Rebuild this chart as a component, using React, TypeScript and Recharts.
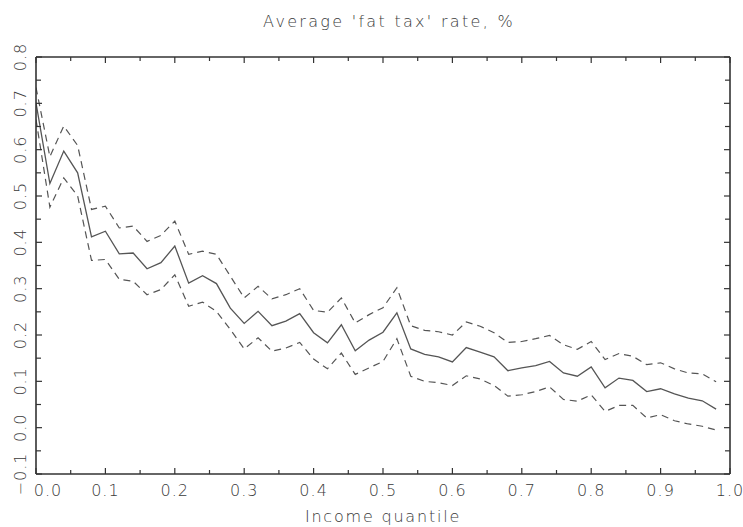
import React from 'react';
import { LineChart, Line, XAxis, YAxis } from 'recharts';

const quantiles = [
  0, 0.02, 0.04, 0.06, 0.08, 0.1, 0.12, 0.14, 0.16, 0.18,
  0.2, 0.22, 0.24, 0.26, 0.28, 0.3, 0.32, 0.34, 0.36, 0.38,
  0.4, 0.42, 0.44, 0.46, 0.48, 0.5, 0.52, 0.54, 0.56, 0.58,
  0.6, 0.62, 0.64, 0.66, 0.68, 0.7, 0.72, 0.74, 0.76, 0.78,
  0.8, 0.82, 0.84, 0.86, 0.88, 0.9, 0.92, 0.94, 0.96, 0.98,
];

const meanRate = [
  0.701, 0.527, 0.597, 0.55, 0.412, 0.424, 0.375, 0.377, 0.343, 0.356,
  0.392, 0.312, 0.328, 0.311, 0.258, 0.225, 0.251, 0.22, 0.23, 0.246,
  0.205, 0.183, 0.222, 0.166, 0.189, 0.206, 0.248, 0.17, 0.158, 0.153,
  0.142, 0.173, 0.163, 0.153, 0.123, 0.129, 0.134, 0.143, 0.118, 0.111,
  0.131, 0.086, 0.107, 0.102, 0.078, 0.084, 0.073, 0.064, 0.058, 0.04,
];

const upperBand = [
  0.734, 0.585, 0.651, 0.609, 0.471, 0.478, 0.431, 0.435, 0.402, 0.415,
  0.446, 0.374, 0.381, 0.374, 0.327, 0.28, 0.305, 0.278, 0.287, 0.3,
  0.253, 0.249, 0.28, 0.226, 0.244, 0.259, 0.302, 0.22, 0.21, 0.207,
  0.2, 0.228, 0.219, 0.205, 0.184, 0.186, 0.192, 0.199, 0.179, 0.169,
  0.186, 0.147, 0.16, 0.154, 0.136, 0.14, 0.127, 0.118, 0.116, 0.099,
];

const lowerBand = [
  0.665, 0.476, 0.539, 0.5, 0.361, 0.363, 0.32, 0.316, 0.287, 0.298,
  0.33, 0.262, 0.271, 0.251, 0.212, 0.17, 0.194, 0.165, 0.172, 0.184,
  0.148, 0.127, 0.161, 0.115, 0.129, 0.143, 0.192, 0.111, 0.1, 0.097,
  0.091, 0.112, 0.105, 0.091, 0.068, 0.071, 0.078, 0.088, 0.061, 0.057,
  0.071, 0.035, 0.048, 0.048, 0.021, 0.028, 0.015, 0.008, 0.003, -0.005,
];

const xTicks = [
  0, 0.05, 0.1, 0.15, 0.2, 0.25, 0.3, 0.35, 0.4, 0.45, 0.5,
  0.55, 0.6, 0.65, 0.7, 0.75, 0.8, 0.85, 0.9, 0.95, 1.0,
];
const yTicks = [
  -0.1, -0.05, 0, 0.05, 0.1, 0.15, 0.2, 0.25, 0.3, 0.35,
  0.4, 0.45, 0.5, 0.55, 0.6, 0.65, 0.7, 0.75, 0.8,
];

const titleText = "Average 'fat tax' rate, %";
const xLabelText = 'Income quantile';

const data = quantiles.map((q, i) => ({
  q,
  mean: meanRate[i],
  upper: upperBand[i],
  lower: lowerBand[i],
}));

const FONT = '"DejaVu Sans", sans-serif';
const TEXT = '#3a3a3a';
const AXIS = '#333';
const TICK = '#333';
const LINE = '#555';

const isMajor = (v: number) => Math.round(v * 100) % 10 === 0;
const fmt = (v: number) => v.toFixed(1).replace('-', '\u2212');

const BottomTick = (props: any) => {
  const { x, y, payload } = props;
  const v = payload.value as number;
  const major = isMajor(v);
  const len = major ? 6 : 4;
  return (
    <g>
      <line x1={x} y1={y} x2={x} y2={y - len} stroke={TICK} strokeWidth={1.2} />
      {major && (
        <text
          x={x + (v === 0 ? 12 : 0)}
          y={y + 22}
          textAnchor="middle"
          fontFamily={FONT}
          fontSize={16}
          fontWeight={300}
          letterSpacing={1}
          fill={TEXT}
        >
          {fmt(v)}
        </text>
      )}
    </g>
  );
};

const TopTick = (props: any) => {
  const { x, y, payload } = props;
  const len = isMajor(payload.value) ? 6 : 4;
  return <line x1={x} y1={y} x2={x} y2={y + len} stroke={TICK} strokeWidth={1.2} />;
};

const LeftTick = (props: any) => {
  const { x, y, payload } = props;
  const v = payload.value as number;
  const major = isMajor(v);
  const len = major ? 6 : 5;
  const tx = 26;
  return (
    <g>
      <line x1={x} y1={y} x2={x + len} y2={y} stroke={TICK} strokeWidth={1.2} />
      {major && (
        <text
          x={tx}
          y={y}
          transform={`rotate(-90, ${tx}, ${y})`}
          textAnchor="middle"
          fontFamily={FONT}
          fontSize={16}
          fontWeight={300}
          letterSpacing={1}
          fill={TEXT}
        >
          {fmt(v)}
        </text>
      )}
    </g>
  );
};

const RightTick = (props: any) => {
  const { x, y, payload } = props;
  const len = isMajor(payload.value) ? 6 : 5;
  return <line x1={x} y1={y} x2={x - len} y2={y} stroke={TICK} strokeWidth={1.2} />;
};

export default function App() {
  return (
    <div style={{ position: 'absolute', left: 0, top: 0, width: 743, height: 527, background: '#fff' }}>
      <LineChart
        width={743}
        height={527}
        data={data}
        margin={{ top: 47, right: 3, bottom: 23, left: 6 }}
      >
        <XAxis
          xAxisId="b"
          dataKey="q"
          type="number"
          domain={[0, 1]}
          ticks={xTicks}
          interval={0}
          height={30}
          tickSize={0}
          tickMargin={0}
          tickLine={false}
          axisLine={{ stroke: AXIS, strokeWidth: 1.6 }}
          tick={<BottomTick />}
          allowDataOverflow
        />
        <XAxis
          xAxisId="t"
          dataKey="q"
          orientation="top"
          type="number"
          domain={[0, 1]}
          ticks={xTicks}
          interval={0}
          height={10}
          tickSize={0}
          tickMargin={0}
          tickLine={false}
          axisLine={{ stroke: AXIS, strokeWidth: 1.6 }}
          tick={<TopTick />}
          allowDataOverflow
        />
        <YAxis
          yAxisId="l"
          type="number"
          domain={[-0.1, 0.8]}
          ticks={yTicks}
          interval={0}
          width={30}
          tickSize={0}
          tickMargin={0}
          tickLine={false}
          axisLine={{ stroke: AXIS, strokeWidth: 1.6 }}
          tick={<LeftTick />}
          allowDataOverflow
        />
        <YAxis
          yAxisId="r"
          orientation="right"
          type="number"
          domain={[-0.1, 0.8]}
          ticks={yTicks}
          interval={0}
          width={10}
          tickSize={0}
          tickMargin={0}
          tickLine={false}
          axisLine={{ stroke: AXIS, strokeWidth: 1.6 }}
          tick={<RightTick />}
          allowDataOverflow
        />
        <Line
          xAxisId="t"
          yAxisId="r"
          type="linear"
          dataKey="mean"
          stroke="none"
          dot={false}
          legendType="none"
          isAnimationActive={false}
        />
        <Line
          xAxisId="b"
          yAxisId="l"
          type="linear"
          dataKey="upper"
          stroke={LINE}
          strokeWidth={1.2}
          strokeDasharray="7 5"
          dot={false}
          isAnimationActive={false}
        />
        <Line
          xAxisId="b"
          yAxisId="l"
          type="linear"
          dataKey="lower"
          stroke={LINE}
          strokeWidth={1.2}
          strokeDasharray="7 5"
          dot={false}
          isAnimationActive={false}
        />
        <Line
          xAxisId="b"
          yAxisId="l"
          type="linear"
          dataKey="mean"
          stroke={LINE}
          strokeWidth={1.3}
          dot={false}
          isAnimationActive={false}
        />
      </LineChart>
      <svg
        width={743}
        height={527}
        style={{ position: 'absolute', left: 0, top: 0, pointerEvents: 'none' }}
      >
        <text
          x={389}
          y={27}
          textAnchor="middle"
          fontFamily={FONT}
          fontSize={16}
          fontWeight={300}
          letterSpacing={2.3}
          fill={TEXT}
        >
          {titleText}
        </text>
        <text
          x={383}
          y={522}
          textAnchor="middle"
          fontFamily={FONT}
          fontSize={16}
          fontWeight={300}
          letterSpacing={1.8}
          fill={TEXT}
        >
          {xLabelText}
        </text>
      </svg>
    </div>
  );
}
